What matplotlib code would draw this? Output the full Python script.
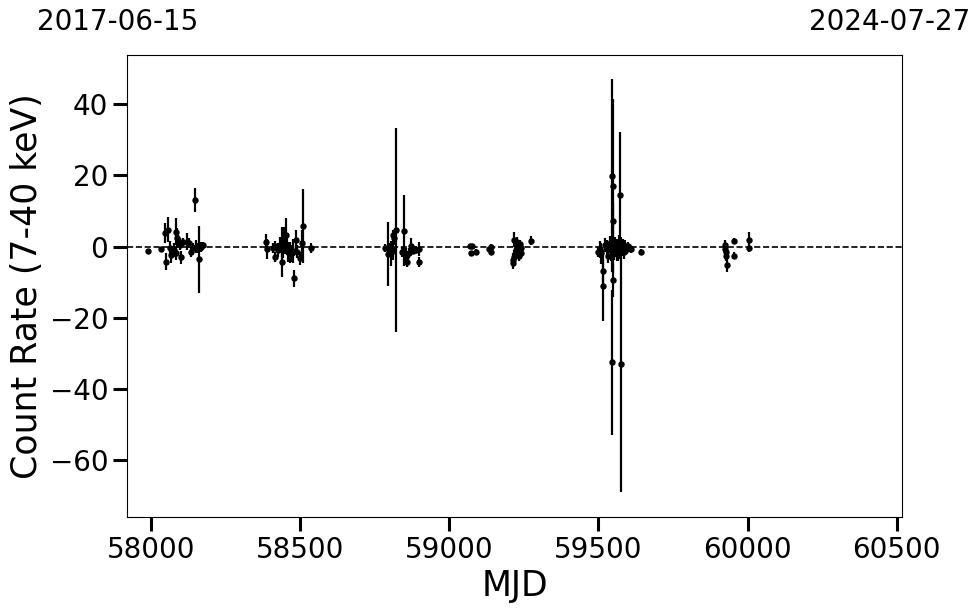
import numpy as np
import matplotlib
matplotlib.use('Agg')
import matplotlib.pyplot as plt

# Campaign 1 (2017-2018)
mjd_1 = [57988, 58033, 58047, 58050, 58056, 58064, 58068, 58077, 58083, 58086,
         58083, 58091, 58100, 58097, 58108, 58120, 58126, 58134, 58140, 58148,
         58150, 58155, 58162, 58164, 58167, 58175]
rate_1 = [-1.2, -0.7, 3.8, -4.2, 4.7, -0.45, -2.3, -0.9, 4.2, 2.3,
          -1.9, 1.9, -3.0, 0.5, 1.4, 1.4, 0.95, -1.4, -0.45, 13.1,
          0.0, -0.3, -3.5, -0.4, 0.0, 0.5]
err_1 = [0.3, 0.5, 2.8, 2.5, 3.5, 1.9, 2.3, 1.9, 3.7, 2.8,
         1.9, 1.4, 1.9, 1.4, 1.1, 2.3, 1.4, 1.4, 1.4, 3.3,
         1.9, 1.4, 9.4, 1.0, 1.4, 0.9]

# Campaign 2 (2018-2019)
mjd_2 = [58385, 58390, 58408, 58415, 58415, 58426, 58432, 58438, 58440, 58443,
         58446, 58449, 58451, 58454, 58460, 58465, 58465, 58471, 58477, 58479,
         58485, 58490, 58499, 58505, 58508, 58536]
rate_2 = [1.2, -0.7, -0.4, 0.2, -3.0, -0.9, 0.5, 1.4, -4.2, -0.5,
          1.9, -0.8, 3.3, 0.0, -1.4, -0.5, -2.6, -1.9, -1.2, -8.9,
          1.9, -1.4, -3.3, 1.1, 5.8, -0.5]
err_2 = [2.3, 2.8, 1.4, 1.4, 1.4, 1.9, 2.3, 4.2, 4.2, 2.8,
         3.7, 1.4, 4.7, 2.3, 2.8, 1.9, 1.9, 2.3, 3.3, 2.3,
         2.8, 1.9, 1.9, 3.7, 10.5, 1.4]

# Campaign 3 (2019-2020)
mjd_3 = [58784, 58795, 58800, 58806, 58810, 58812, 58814, 58820, 58840, 58847,
         58854, 58858, 58866, 58870, 58878, 58887, 58898, 58898]
rate_3 = [-0.5, -2.0, -0.5, -1.9, 3.3, -0.9, 2.3, 4.7, -1.4, 4.45,
          -2.8, -4.2, -1.9, 0.2, -1.1, -0.9, -4.2, -0.7]
err_3 = [1.1, 9.0, 1.5, 3.6, 1.4, 2.8, 1.9, 28.6, 1.4, 10.0,
         2.3, 1.4, 1.4, 2.3, 1.0, 1.0, 1.4, 1.9]

# Campaign 4 (2020-2021)
mjd_4 = [59068, 59071, 59077, 59091, 59134, 59141, 59141, 59212, 59214, 59216,
         59218, 59220, 59222, 59224, 59226, 59228, 59230, 59233, 59236, 59239,
         59241, 59275]
rate_4 = [0.2, -1.7, 0.2, -1.4, -0.7, 0.0, -1.4, -4.7, -3.8, -3.0,
          2.0, -2.0, -1.0, 0.5, -1.4, 1.2, -0.5, -2.5, 0.8, -1.8,
          -0.3, 1.7]
err_4 = [0.5, 0.6, 0.5, 0.6, 0.7, 0.8, 0.6, 1.5, 2.0, 2.0,
         2.2, 1.5, 2.0, 1.5, 2.0, 1.5, 2.5, 1.5, 1.2, 1.0,
         1.0, 1.2]

# Campaign 5 (2021-2022)
mjd_5 = [59498, 59505, 59510, 59516, 59516, 59522, 59528, 59533, 59538, 59541,
         59545, 59546, 59547, 59548, 59549, 59550, 59552, 59555, 59558, 59561,
         59564, 59567, 59570, 59573, 59576, 59580, 59583, 59586, 59590, 59595,
         59600, 59606, 59610, 59643]
rate_5 = [-1.5, -0.8, -1.9, -6.8, -11.0, 0.5, -0.5, -2.5, 1.0, -1.0,
          -32.5, 0.3, 19.9, -9.4, 17.0, 7.3, -1.2, 0.8, -0.4, -2.0,
          0.2, -0.9, 1.2, 14.4, -33.0, -0.5, 0.6, -1.5, 0.3, -0.7,
          0.2, -0.4, -0.8, -1.4]
err_5 = [1.5, 2.5, 3.0, 3.0, 10.0, 2.0, 2.5, 2.0, 2.0, 3.0,
         20.4, 2.0, 27.1, 4.6, 24.4, 5.0, 2.5, 2.0, 2.5, 2.0,
         1.5, 3.0, 2.0, 17.9, 35.8, 2.0, 1.5, 2.0, 1.5, 1.5,
         1.0, 1.0, 1.0, 0.8]

# Campaign 6 (2022-2023)
mjd_6 = [59925, 59926, 59927, 59928, 59930, 59953, 59953, 60004, 60006]
rate_6 = [-0.7, 0.5, -1.4, -2.6, -5.1, 1.7, -2.6, 1.9, -0.5]
err_6 = [1.0, 1.5, 1.2, 1.5, 1.9, 0.7, 1.0, 2.2, 1.0]

mjd = mjd_1 + mjd_2 + mjd_3 + mjd_4 + mjd_5 + mjd_6
rate = rate_1 + rate_2 + rate_3 + rate_4 + rate_5 + rate_6
rate_err = err_1 + err_2 + err_3 + err_4 + err_5 + err_6

date_start = '2017-06-15'
date_end = '2024-07-27'
mjd_start = 57919
mjd_end = 60518

fig = plt.figure(figsize=(9.8, 6.13), dpi=100)
ax = fig.add_axes([0.1296, 0.1566, 0.7908, 0.7537])

ax.errorbar(mjd, rate, yerr=rate_err, fmt='o', color='black',
            markersize=3.6, elinewidth=1.6, capsize=0)
ax.axhline(0, color='black', linestyle='--', linewidth=1.2)

ax.set_xlim(mjd_start, mjd_end)
ax.set_ylim(-75.9, 53.8)
ax.set_xticks([58000, 58500, 59000, 59500, 60000, 60500])
ax.set_yticks([-60, -40, -20, 0, 20, 40])
ax.tick_params(axis='both', labelsize=20, length=10, width=2.2)
ax.set_xlabel('MJD', fontsize=25, labelpad=4)
ax.set_ylabel('Count Rate (7-40 keV)', fontsize=25, labelpad=4)

# Даты начала и конца наблюдений над осью
fig.text(118 / 980, 1 - 22 / 613, date_start, fontsize=20, ha='center', va='center')
fig.text(890 / 980, 1 - 22 / 613, date_end, fontsize=20, ha='center', va='center')

fig.savefig('out.png', dpi=100)
